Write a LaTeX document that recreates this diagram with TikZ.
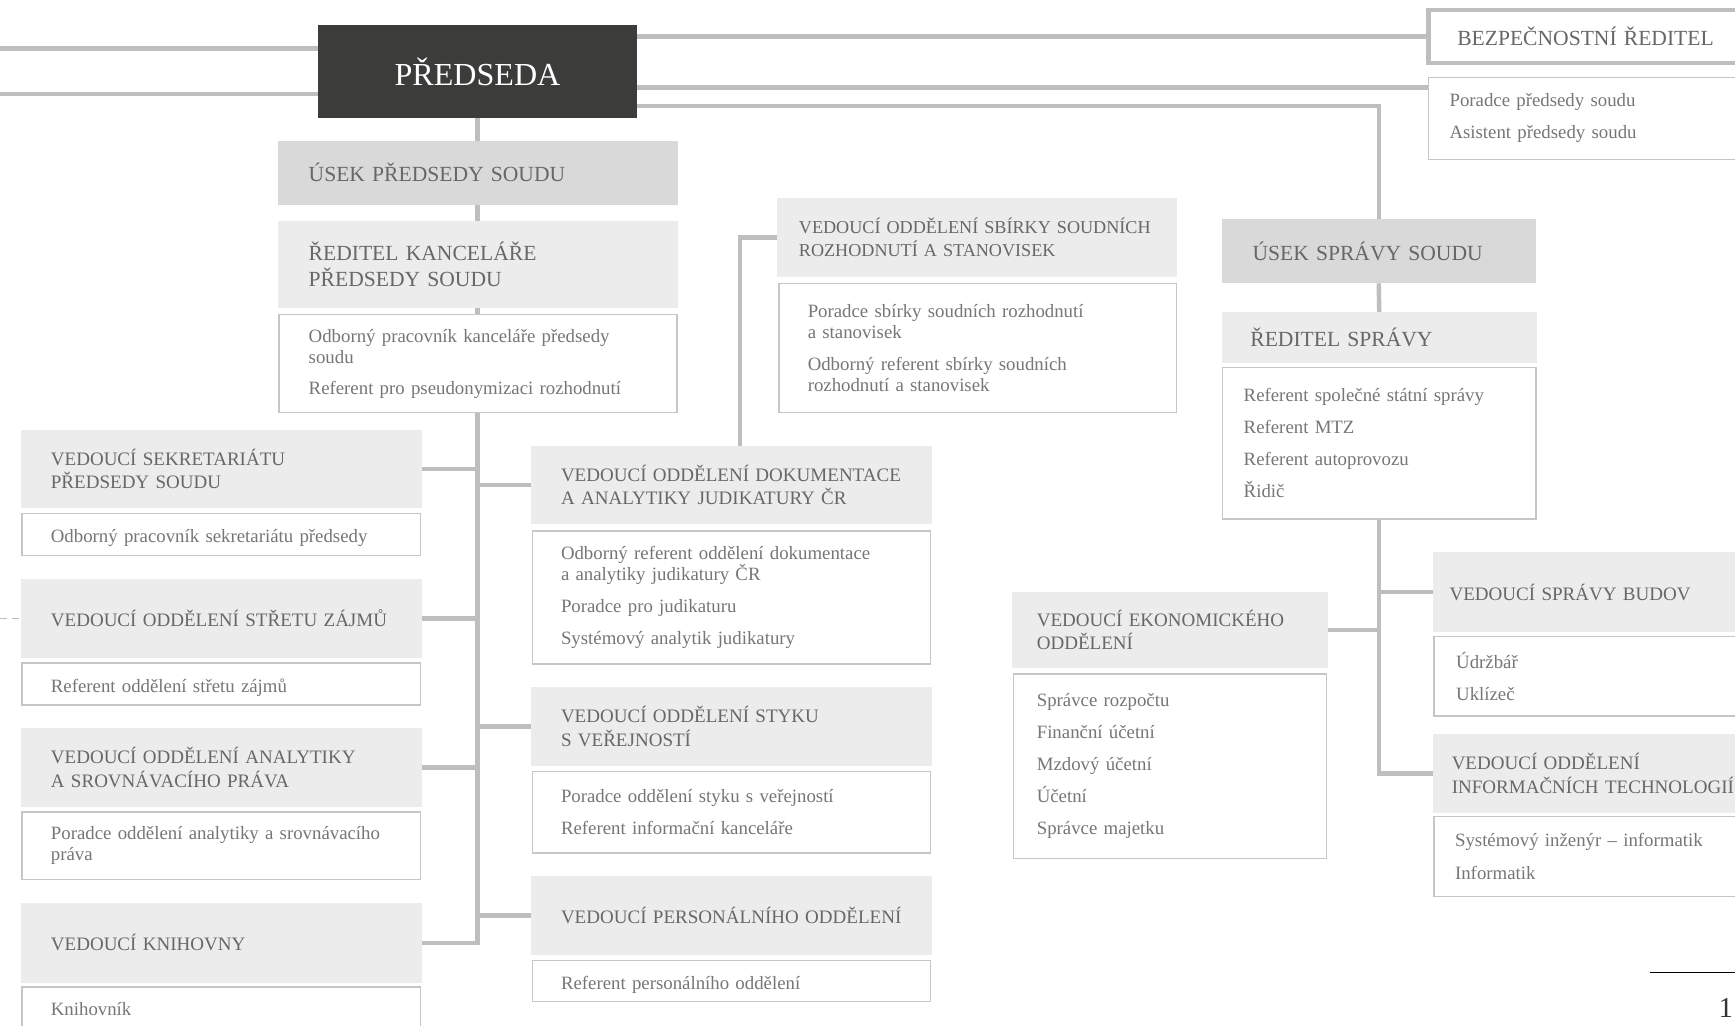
\documentclass[tikz,border=0pt]{standalone}
\usepackage{fontspec}
\setmainfont{Liberation Serif}
\usetikzlibrary{calc}
\definecolor{linegray}{HTML}{BEBEBE}
\definecolor{hdrfill}{HTML}{ECECEC}
\definecolor{usekfill}{HTML}{D9D9D9}
\definecolor{darkfill}{HTML}{3C3C3B}
\definecolor{borderc}{HTML}{C6C6C6}
\definecolor{txtc}{HTML}{676767}
\definecolor{listc}{HTML}{767676}
\newcommand{\hfnt}{\fontsize{17.2}{21}\selectfont}
\newcommand{\tfnt}{\fontsize{19.5}{24}\selectfont}
\newcommand{\lfnt}{\fontsize{17}{19}\selectfont}
\newcommand{\lowr}{\rule{0pt}{19pt}}
\pgfdeclarelayer{bg}
\pgfsetlayers{bg,main}
\tikzset{
  conn/.style={draw=linegray, line width=4pt},
  dashconn/.style={draw=linegray, line width=1.6pt, dash pattern=on 6pt off 5pt},
  base/.style={anchor=north west, outer sep=0pt, inner ysep=0pt, align=left,
    execute at begin node={\hyphenpenalty=10000\exhyphenpenalty=10000\relax}},
  hbox/.style={base, fill=hdrfill, text=txtc, font=\hfnt},
  tbox/.style={base, fill=hdrfill, text=txtc, font=\tfnt},
  ubox/.style={base, fill=usekfill, text=txtc, font=\tfnt},
  lbox/.style={base, fill=white, draw=borderc, line width=1.3pt, text=listc, font=\lfnt},
}
\begin{document}
\begin{tikzpicture}[x=1pt,y=-1pt]
\useasboundingbox (0,0) rectangle (1568,927);
\clip (0,0) rectangle (1568,927);

% top
\node[base, fill=darkfill, text=white, font=\fontsize{29}{34}\selectfont, align=center, minimum width=289pt, minimum height=84pt, inner xsep=0pt] (pred) at (287,23) {PŘEDSEDA};
\node[base, fill=white, draw=linegray, line width=4pt, text=txtc, font=\tfnt, text width=348pt, inner xsep=26pt, minimum height=48pt] (bezp) at (1291,9) {BEZPEČNOSTNÍ~ŘEDITEL};
\node[lbox, text width=362pt, inner xsep=19pt, minimum height=74pt] (porad) at (1291,70) {Poradce předsedy soudu\\[10pt]Asistent předsedy soudu};

% president's section
\node[ubox, text width=306pt, inner xsep=28pt, minimum height=58pt] (usekp) at (251,127) {ÚSEK~PŘEDSEDY~SOUDU};
\node[tbox, text width=306pt, inner xsep=28pt, minimum height=78pt] (redk) at (251,200) {ŘEDITEL~KANCELÁŘE\\PŘEDSEDY~SOUDU};
\node[lbox, text width=306pt, inner xsep=27pt, minimum height=89pt] (redkl) at (252,284) {Odborný~pracovník~kanceláře~předsedy\\soudu\\[9pt]Referent~pro~pseudonymizaci~rozhodnutí};

% left column
\node[hbox, text width=308pt, inner xsep=27pt, minimum height=70pt] (sekr) at (19,389) {\rule{0pt}{15pt}VEDOUCÍ~SEKRETARIÁTU\\PŘEDSEDY~SOUDU};
\node[lbox, text width=308pt, inner xsep=26pt, minimum height=38pt] (sekrl) at (20,464) {\lowr Odborný~pracovník~sekretariátu~předsedy};
\node[hbox, text width=308pt, inner xsep=27pt, minimum height=72pt] (stret) at (19,523) {\rule{0pt}{15pt}VEDOUCÍ~ODDĚLENÍ~STŘETU~ZÁJMŮ};
\node[lbox, text width=308pt, inner xsep=26pt, minimum height=38pt] (stretl) at (20,599) {\lowr Referent~oddělení~střetu~zájmů};
\node[hbox, text width=308pt, inner xsep=27pt, minimum height=71pt] (anal) at (19,658) {VEDOUCÍ~ODDĚLENÍ~ANALYTIKY\\A~SROVNÁVACÍHO~PRÁVA};
\node[lbox, text width=308pt, inner xsep=26pt, minimum height=61pt] (anall) at (20,734) {Poradce~oddělení~analytiky~a~srovnávacího\\práva};
\node[hbox, text width=308pt, inner xsep=27pt, minimum height=72pt] (knih) at (19,816) {VEDOUCÍ~KNIHOVNY};
\node[lbox, text width=308pt, inner xsep=26pt, minimum height=40pt] (knihl) at (20,892) {Knihovník};

% middle column
\node[hbox, text width=308pt, inner xsep=27pt, minimum height=71pt] (dok) at (480,403) {VEDOUCÍ~ODDĚLENÍ~DOKUMENTACE\\A~ANALYTIKY~JUDIKATURY~ČR};
\node[lbox, text width=308pt, inner xsep=26pt, minimum height=120pt] (dokl) at (481,480) {Odborný~referent~oddělení~dokumentace\\a~analytiky~judikatury~ČR\\[10pt]Poradce~pro~judikaturu\\[10pt]Systémový~analytik~judikatury};
\node[hbox, text width=308pt, inner xsep=27pt, minimum height=71pt] (styk) at (480,621) {VEDOUCÍ~ODDĚLENÍ~STYKU\\S~VEŘEJNOSTÍ};
\node[lbox, text width=308pt, inner xsep=26pt, minimum height=74pt] (stykl) at (481,697) {Poradce~oddělení~styku~s~veřejností\\[10pt]Referent~informační~kanceláře};
\node[hbox, text width=308pt, inner xsep=27pt, minimum height=71pt] (pers) at (480,792) {VEDOUCÍ~PERSONÁLNÍHO~ODDĚLENÍ};
\node[lbox, text width=308pt, inner xsep=26pt, minimum height=37pt] (persl) at (481,868) {\lowr Referent~personálního~oddělení};

% collection
\node[hbox, font=\fontsize{16.4}{21}\selectfont, text width=322pt, inner xsep=20pt, minimum height=71pt] (sbir) at (702,179) {VEDOUCÍ~ODDĚLENÍ~SBÍRKY~SOUDNÍCH\\ROZHODNUTÍ~A~STANOVISEK};
\node[lbox, text width=307pt, inner xsep=26pt, minimum height=117pt] (sbirl) at (704,256) {Poradce~sbírky~soudních~rozhodnutí\\a~stanovisek\\[10pt]Odborný~referent~sbírky~soudních\\rozhodnutí~a~stanovisek};

% administration
\node[ubox, text width=228pt, inner xsep=28pt, minimum height=58pt] (usks) at (1104,198) {ÚSEK~SPRÁVY~SOUDU};
\node[tbox, text width=233pt, inner xsep=26pt, minimum height=46pt] (reds) at (1104,282) {ŘEDITEL~SPRÁVY};
\node[lbox, text width=245pt, inner xsep=19pt, minimum height=137pt] (redsl) at (1105,332) {Referent~společné~státní~správy\\[10pt]Referent~MTZ\\[10pt]Referent~autoprovozu\\[10pt]Řidič};
\node[hbox, text width=370pt, inner xsep=15pt, minimum height=72pt] (budov) at (1295,499) {VEDOUCÍ~SPRÁVY~BUDOV};
\node[lbox, text width=360pt, inner xsep=20pt, minimum height=72pt] (budovl) at (1296,575) {Údržbář\\[10pt]Uklízeč};
\node[hbox, text width=366pt, inner xsep=17pt, minimum height=72pt] (it) at (1295,663) {VEDOUCÍ~ODDĚLENÍ\\INFORMAČNÍCH~TECHNOLOGIÍ};
\node[lbox, text width=362pt, inner xsep=19pt, minimum height=72pt] (itl) at (1296,738) {Systémový~inženýr~–~informatik\\[10pt]Informatik};
\node[hbox, text width=241pt, inner xsep=22pt, minimum height=69pt] (ekon) at (915,535) {VEDOUCÍ~EKONOMICKÉHO\\ODDĚLENÍ};
\node[lbox, text width=241pt, inner xsep=21pt, minimum height=167pt] (ekonl) at (916,609) {Správce~rozpočtu\\[10pt]Finanční~účetní\\[10pt]Mzdový~účetní\\[10pt]Účetní\\[10pt]Správce~majetku};

% footer
\coordinate (f1) at (1491,879);
\coordinate (f2) at (1568,879);
\draw[black, line width=0.9pt] (f1) -- (f2);
\node[anchor=west, inner sep=0pt, text=black!80, font=\fontsize{26}{30}\selectfont] (pg) at (1553,911) {1};

\begin{pgfonlayer}{bg}
\fill[white] (0,0) rectangle (1568,927);
\coordinate (tl1) at (0,44);
\coordinate (tl2) at (0,85);
\coordinate (edge) at (0,0);
\draw[conn] (tl1) -- (tl1 -| pred.west);
\draw[conn] (tl2) -- (tl2 -| pred.west);
\draw[conn] (pred.east |- bezp.west) -- (bezp.west);
\coordinate (pin) at ([yshift=-9pt]porad.north west);
\draw[conn] (pred.east |- pin) -- (pin);
\draw[conn] ([yshift=11pt]pred.south east) -| (usks.north);
\draw[conn] (pred.south) -- (pred.south |- knih.east) -- (knih.east);
\draw[conn] (sekr.east) -- (sekr.east -| pred.south);
\draw[conn] (stret.east) -- (stret.east -| pred.south);
\draw[conn] (anal.east) -- (anal.east -| pred.south);
\draw[conn] (dok.west -| pred.south) -- (dok.west);
\draw[conn] (styk.west -| pred.south) -- (styk.west);
\draw[conn] (pers.west -| pred.south) -- (pers.west);
\draw[conn] ([xshift=8pt]dok.north) |- (sbir.west);
\draw[conn] (usks.south) -- (reds.north);
\draw[conn] (redsl.south) |- (it.west);
\draw[conn] (budov.west -| redsl.south) -- (budov.west);
\draw[conn] (ekon.east) -- (ekon.east -| redsl.south);
\draw[dashconn] (stret.west -| edge) -- (stret.west);
\end{pgfonlayer}
\end{tikzpicture}
\end{document}
